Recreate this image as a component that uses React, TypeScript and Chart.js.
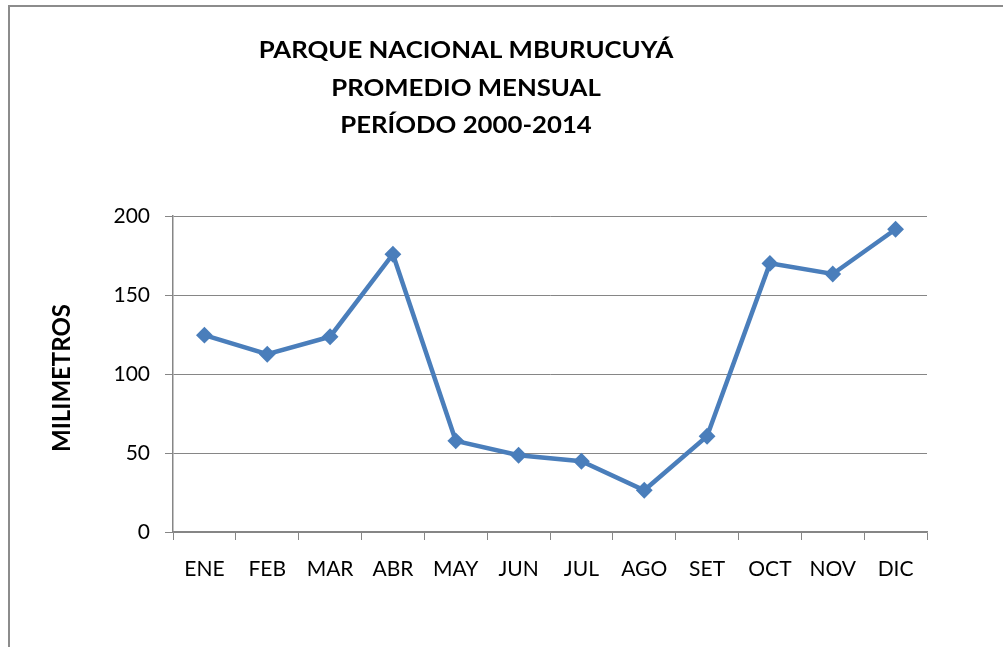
import React, { useEffect, useRef } from "react";
import { Chart, registerables } from "chart.js";

Chart.register(...registerables);

const months = ["ENE", "FEB", "MAR", "ABR", "MAY", "JUN", "JUL", "AGO", "SET", "OCT", "NOV", "DIC"];
const rainfall = [124.6, 112.5, 123.6, 175.8, 57.7, 48.6, 44.8, 26.4, 60.6, 170.0, 163.3, 191.6];
const titleLines = ["PARQUE NACIONAL MBURUCUYÁ", "PROMEDIO MENSUAL", "PERÍODO 2000-2014"];
const yAxisTitle = "MILIMETROS";

const FONT = "Lato, 'Open Sans', sans-serif";

const decorPlugin = {
  id: "decor",
  beforeDraw(chart: any) {
    const ctx = chart.ctx;
    ctx.save();
    ctx.fillStyle = "#ffffff";
    ctx.fillRect(0, 0, chart.width, chart.height);
    ctx.strokeStyle = "#8c8c8c";
    ctx.lineWidth = 2;
    ctx.strokeRect(9, 6, 3000, 3000);
    ctx.restore();
  },
  afterDraw(chart: any) {
    const ctx = chart.ctx;
    ctx.save();
    ctx.fillStyle = "#000000";
    ctx.textAlign = "center";
    ctx.textBaseline = "middle";
    ctx.font = `bold 23px ${FONT}`;
    titleLines.forEach((t, i) => {
      ctx.save();
      ctx.translate(466, 51 + i * 37.5);
      ctx.scale(1.12, 1);
      ctx.fillText(t, 0, 0);
      ctx.restore();
    });
    ctx.translate(62, 378);
    ctx.rotate(-Math.PI / 2);
    ctx.font = `bold 24px ${FONT}`;
    ctx.fillText(yAxisTitle, 0, 0);
    ctx.restore();
  },
};

export default function App() {
  const ref = useRef<HTMLCanvasElement>(null);
  useEffect(() => {
    if (!ref.current) return;
    const chart = new Chart(ref.current, {
      type: "line",
      data: {
        labels: months,
        datasets: [
          {
            data: rainfall,
            borderColor: "#4A7EBB",
            backgroundColor: "#4A7EBB",
            borderWidth: 4.5,
            pointStyle: "rectRot",
            pointRadius: 7,
            pointBorderWidth: 2,
            pointBackgroundColor: "#4A7EBB",
            pointBorderColor: "#4A7EBB",
            tension: 0,
          },
        ],
      },
      options: {
        responsive: false,
        animation: false,
        layout: { padding: { left: 0, top: 216, right: 76, bottom: 0 } },
        plugins: { legend: { display: false }, tooltip: { enabled: false }, title: { display: false } },
        scales: {
          x: {
            offset: true,
            grid: { offset: true, drawOnChartArea: false, drawTicks: true, tickLength: 8, color: "#868686", lineWidth: 1 },
            border: { display: true, color: "#868686", width: 1.5 },
            ticks: { color: "#000", font: { family: FONT, size: 21 }, padding: 17, maxRotation: 0 },
            afterFit: (s: any) => { s.height = 115; },
          },
          y: {
            min: 0,
            max: 200,
            ticks: { stepSize: 50, color: "#000", font: { family: FONT, size: 21 }, padding: 15 },
            grid: { color: "#868686", lineWidth: 1, tickLength: 8, drawTicks: true },
            border: { display: true, color: "#868686", width: 1.5 },
            afterFit: (s: any) => { s.width = 173; },
          },
        },
      },
      plugins: [decorPlugin],
    });
    return () => chart.destroy();
  }, []);
  return (
    <div style={{ position: "fixed", left: 0, top: 0, width: 1003, height: 647, background: "#fff" }}>
      <canvas ref={ref} width={1003} height={647} style={{ width: 1003, height: 647, display: "block" }} />
    </div>
  );
}
